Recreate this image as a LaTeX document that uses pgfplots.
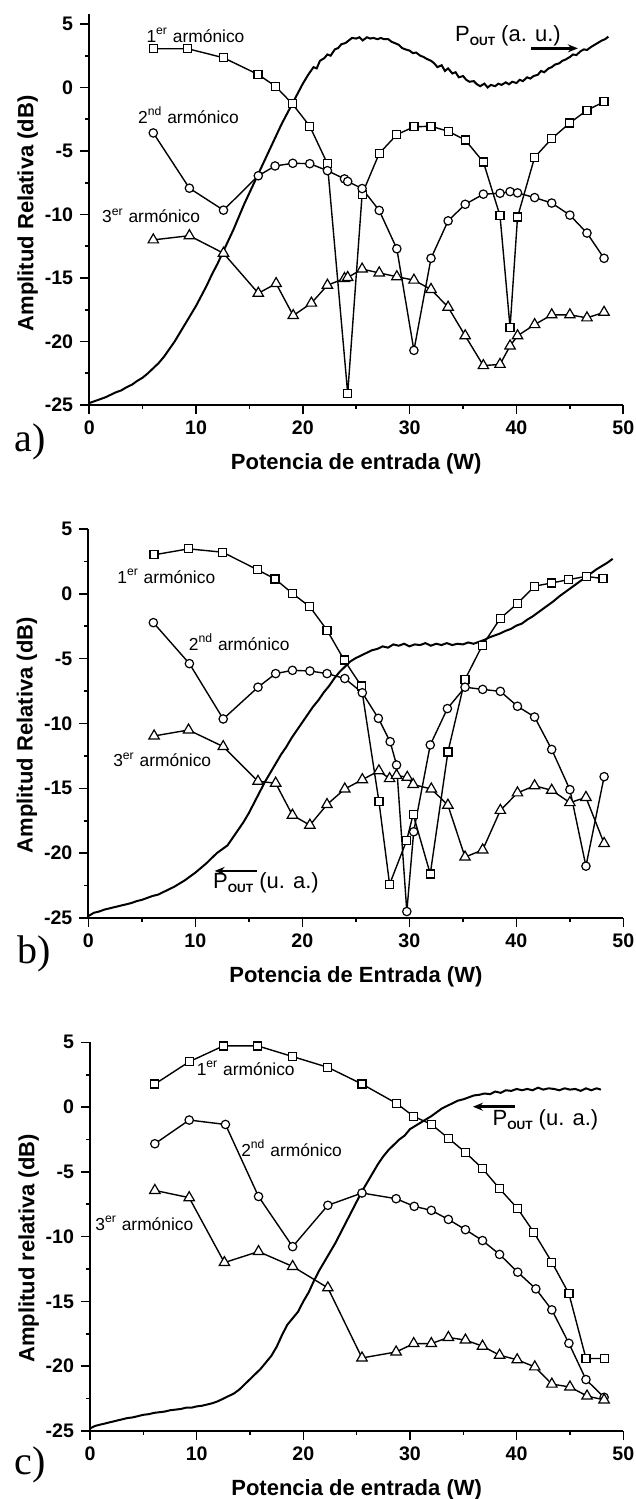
\documentclass[border=0pt]{standalone}
\usepackage{fontspec}
\setmainfont{Liberation Sans}
\newfontfamily\seriffont{Liberation Serif}
\usepackage{pgfplots}
\pgfplotsset{compat=1.18}
\usetikzlibrary{arrows.meta}

\pgfplotsset{
  panel/.style={
    scale only axis,
    axis lines=left,
    axis line style={-, line width=0.9pt},
    xmin=0, xmax=50, ymin=-25,
    xtick={0,10,...,50}, ytick={-25,-20,...,5},
    minor x tick num=1, minor y tick num=1,
    tick align=outside,
    major tick length=4.5pt, minor tick length=2pt,
    every tick/.style={line width=0.8pt, black},
    ticklabel style={font=\bfseries\fontsize{9.8}{9.8}\selectfont},
    /pgf/number format/assume math mode=true,
    xlabel style={font=\bfseries\fontsize{11}{11}\selectfont, at={(axis description cs:0.5,0)}, anchor=center, yshift=-29.5pt},
    ylabel style={font=\bfseries\fontsize{11}{11}\selectfont, anchor=center},
    clip=false,
  },
  sq/.style={black, line width=0.7pt, mark=square*, mark size=2pt, mark options={fill=white, solid, line width=0.6pt}},
  ci/.style={black, line width=0.7pt, mark=*, mark size=2.1pt, mark options={fill=white, solid, line width=0.6pt}},
  tr/.style={black, line width=0.7pt, mark=triangle*, mark size=3pt, mark options={fill=white, solid, line width=0.6pt}},
  pout/.style={black, line width=1pt, no marks},
}
\tikzset{
  ann/.style={font=\fontsize{8.7}{8.7}\selectfont},
  pl/.style={font=\fontsize{11}{11}\selectfont},
  arr/.style={line width=1.3pt, -{Stealth[length=5pt,width=4pt]}},
}
\newcommand{\POUT}{P\raisebox{-0.35ex}{\fontsize{6}{6}\selectfont\bfseries OUT}}

\begin{document}
\begin{tikzpicture}
\useasboundingbox (0,0) rectangle (318pt,-749.5pt);

% ---------------- panel a ----------------
\begin{axis}[panel, at={(44.6pt,-202.5pt)}, anchor=south west,
  width=267.05pt, height=195.6pt, ymax=5.8,
  xlabel={Potencia de entrada (W)},
  ylabel={Amplitud Relativa (dB)},
  ylabel style={at={(axis description cs:-0.115,0.49)}}]
\addplot[pout] coordinates {
(0,-24.85)(0.5,-24.7)(1,-24.55)(1.5,-24.4)(2,-24.2)(2.5,-24.0)(3,-23.85)(3.5,-23.6)(4,-23.4)(4.5,-23.1)
(5,-22.85)(5.5,-22.5)(6,-22.1)(6.5,-21.7)(7,-21.2)(7.5,-20.6)(8,-20.0)(8.5,-19.3)(9,-18.6)(9.5,-17.9)
(10,-17.2)(10.5,-16.4)(11,-15.6)(11.5,-14.7)(12,-13.9)(12.5,-13.0)(13,-12.1)(13.5,-11.2)(14,-10.2)(14.5,-9.2)
(15,-8.3)(15.5,-7.4)(16,-6.5)(16.5,-5.6)(17,-4.7)(17.5,-3.8)(18,-2.9)(18.5,-2.1)(19,-1.3)(19.5,-0.5)
(20,0.3)(20.5,1.0)(21,1.6)(21.3,1.5)(21.6,2.1)(22,2.3)(22.3,2.6)(22.6,2.5)(23,3.0)(23.3,3.1)(23.6,3.4)
(24,3.5)(24.3,3.7)(24.6,3.9)(25,3.85)(25.3,3.95)(25.6,3.7)(26,3.95)(26.3,3.85)(26.6,3.9)(27,3.8)(27.3,3.9)
(27.6,3.8)(28,3.8)(28.3,3.6)(28.6,3.5)(29,3.35)(29.3,3.1)(29.6,3.0)(30,2.9)(30.3,2.7)(30.6,2.75)(31,2.5)
(31.3,2.4)(31.6,2.25)(32,2.1)(32.3,1.9)(32.6,1.6)(33,1.75)(33.3,1.3)(33.6,1.5)(34,1.1)(34.3,1.2)(34.6,0.8)
(35,0.9)(35.3,0.6)(35.6,0.45)(36,0.5)(36.3,0.25)(36.6,0.1)(37,0.3)(37.3,0.0)(37.6,0.2)(38,0.1)(38.3,0.3)
(38.6,0.2)(39,0.4)(39.3,0.25)(39.6,0.45)(40,0.35)(40.3,0.6)(40.6,0.5)(41,0.8)(41.3,0.7)(41.6,0.9)(42,1.0)
(42.3,1.3)(42.6,1.2)(43,1.5)(43.3,1.6)(43.6,1.8)(44,1.9)(44.3,2.1)(44.6,2.2)(45,2.4)(45.3,2.6)(45.6,2.55)
(46,2.85)(46.3,3.0)(46.6,2.95)(47,3.2)(47.3,3.35)(47.6,3.5)(48,3.7)(48.3,3.8)(48.6,4.0)};
\addplot[sq] coordinates {
(6.0,3.05)(9.23,3.05)(12.57,2.34)(15.8,1.03)(17.43,0.1)(19.02,-1.29)(20.65,-3.05)(22.3,-6.0)
(24.2,-24.1)(25.55,-8.4)(27.15,-5.2)(28.8,-3.71)(30.4,-3.1)(32.0,-3.05)(33.6,-3.45)(35.2,-4.13)
(36.9,-5.87)(38.46,-10.1)(39.4,-18.9)(40.1,-10.2)(41.7,-5.5)(43.3,-4.03)(45.0,-2.79)(46.6,-1.79)(48.2,-1.13)};
\addplot[ci] coordinates {
(6.0,-3.58)(9.38,-7.93)(12.57,-9.66)(15.83,-6.95)(17.4,-6.18)(19.06,-5.97)(20.65,-6.0)(22.3,-6.55)
(23.9,-7.2)(24.2,-7.4)(25.55,-7.96)(27.15,-9.68)(28.8,-12.7)(30.4,-20.7)(32.0,-13.45)(33.6,-10.5)
(35.2,-9.2)(36.9,-8.4)(38.46,-8.33)(39.4,-8.2)(40.1,-8.3)(41.7,-8.67)(43.3,-9.1)(45.0,-10.05)(46.6,-11.46)(48.2,-13.45)};
\addplot[tr] coordinates {
(6.0,-12.0)(9.38,-11.67)(12.57,-13.05)(15.83,-16.2)(17.5,-15.44)(19.1,-17.96)(20.8,-16.98)(22.3,-15.57)
(23.9,-15.04)(24.2,-14.96)(25.55,-14.3)(27.15,-14.6)(28.8,-14.9)(30.4,-15.17)(32.0,-15.9)(33.6,-17.3)
(35.2,-19.55)(36.9,-21.9)(38.46,-21.8)(39.4,-20.35)(40.1,-19.55)(41.7,-18.67)(43.3,-17.9)(45.0,-17.9)(46.6,-18.14)(48.2,-17.7)};
\node[ann] at (axis cs:9.95,4.13) {1\textsuperscript{er} armónico};
\node[ann] at (axis cs:9.3,-2.18) {2\textsuperscript{nd} armónico};
\node[ann] at (axis cs:5.8,-10.1) {3\textsuperscript{er} armónico};
\node[pl] at (axis cs:39.2,4.1) {\POUT{} (a. u.)};
\draw[arr] (axis cs:41.4,3.08) -- (axis cs:45.75,3.08);
\end{axis}

% ---------------- panel b ----------------
\begin{axis}[panel, at={(44.2pt,-459pt)}, anchor=south west,
  width=267.5pt, height=194.5pt, ymax=5,
  xlabel={Potencia de Entrada (W)},
  ylabel={Amplitud Relativa (dB)},
  ylabel style={at={(axis description cs:-0.115,0.47)}}]
\addplot[pout] coordinates {
(0,-24.85)(0.5,-24.6)(1,-24.5)(1.5,-24.35)(2,-24.25)(2.5,-24.15)(3,-24.05)(3.5,-23.95)(4,-23.85)(4.5,-23.7)
(5,-23.6)(5.5,-23.45)(6,-23.3)(6.5,-23.2)(7,-23.0)(7.5,-22.8)(8,-22.6)(8.5,-22.35)(9,-22.1)(9.5,-21.8)
(10,-21.5)(10.5,-21.15)(11,-20.8)(11.5,-20.4)(12,-20.0)(12.5,-19.7)(13,-19.4)(13.5,-18.8)(14,-18.2)(14.5,-17.6)
(15,-16.9)(15.5,-16.1)(16,-15.3)(16.5,-14.5)(17,-13.8)(17.5,-13.1)(18,-12.4)(18.5,-11.8)(19,-11.1)(19.5,-10.5)
(20,-9.9)(20.5,-9.3)(21,-8.7)(21.5,-8.2)(22,-7.6)(22.5,-7.1)(23,-6.5)(23.5,-6.0)(24,-5.6)(24.5,-5.2)
(25,-4.95)(25.5,-4.75)(26,-4.55)(26.5,-4.35)(27,-4.25)(27.5,-4.05)(28,-4.15)(28.5,-3.9)(29,-4.0)(29.5,-3.85)
(30,-4.05)(30.5,-3.9)(31,-3.95)(31.5,-3.8)(32,-4.0)(32.5,-3.85)(33,-3.95)(33.5,-3.8)(34,-3.95)(34.5,-3.85)
(35,-3.9)(35.5,-3.75)(36,-3.85)(36.5,-3.7)(37,-3.55)(37.5,-3.35)(38,-3.2)(38.5,-3.05)(39,-2.85)(39.5,-2.7)
(40,-2.45)(40.5,-2.3)(41,-2.0)(41.5,-1.75)(42,-1.45)(42.5,-1.15)(43,-0.85)(43.5,-0.55)(44,-0.2)(44.5,0.1)
(45,0.4)(45.5,0.7)(46,1.0)(46.5,1.3)(47,1.6)(47.5,1.9)(48,2.15)(48.5,2.4)(49,2.7)};
\addplot[sq] coordinates {
(6.14,3.01)(9.36,3.47)(12.55,3.21)(15.8,1.86)(17.44,1.15)(19.07,0.03)(20.7,-1.0)(22.3,-2.8)(23.9,-5.1)
(25.5,-7.1)(27.15,-16.0)(28.15,-22.4)(29.75,-19.0)(30.35,-17.0)(31.95,-21.6)(33.6,-12.2)(35.2,-6.6)
(36.8,-4.0)(38.5,-1.89)(40.07,-0.77)(41.7,0.59)(43.3,0.84)(44.9,1.1)(46.55,1.35)(48.1,1.17)};
\addplot[ci] coordinates {
(6.07,-2.22)(9.44,-5.38)(12.6,-9.65)(15.85,-7.2)(17.5,-6.15)(19.07,-5.9)(20.7,-5.95)(22.3,-6.15)
(23.96,-6.53)(25.6,-7.63)(27.1,-9.6)(28.2,-11.4)(28.8,-13.2)(29.76,-24.5)(30.4,-18.35)(31.95,-11.65)
(33.55,-8.85)(35.2,-7.2)(36.85,-7.37)(38.5,-7.52)(40.1,-8.67)(41.7,-9.5)(43.3,-12.0)(45.0,-15.1)(46.5,-21.0)(48.2,-14.1)};
\addplot[tr] coordinates {
(6.14,-10.96)(9.36,-10.5)(12.6,-11.78)(15.85,-14.46)(17.5,-14.6)(19.07,-17.07)(20.7,-17.84)(22.3,-16.25)
(23.96,-15.05)(25.6,-14.33)(27.15,-13.65)(28.15,-14.25)(28.8,-14.0)(29.8,-14.15)(30.35,-14.7)(32.05,-15.05)
(33.6,-16.3)(35.2,-20.3)(36.85,-19.75)(38.5,-16.7)(40.1,-15.35)(41.7,-14.8)(43.3,-15.15)(45.0,-16.1)(46.5,-15.7)(48.2,-19.25)};
\node[ann] at (axis cs:7.28,1.35) {1\textsuperscript{er} armónico};
\node[ann] at (axis cs:14.1,-3.75) {2\textsuperscript{nd} armónico};
\node[ann] at (axis cs:6.9,-12.8) {3\textsuperscript{er} armónico};
\node[pl] at (axis cs:16.6,-22.3) {\POUT{} (u. a.)};
\draw[arr] (axis cs:15.8,-21.37) -- (axis cs:11.8,-21.37);
\end{axis}

% ---------------- panel c ----------------
\begin{axis}[panel, at={(45pt,-715.5pt)}, anchor=south west,
  width=266.65pt, height=194.35pt, ymax=5,
  xlabel={Potencia de entrada (W)},
  ylabel={Amplitud relativa (dB)},
  ylabel style={at={(axis description cs:-0.115,0.47)}}]
\addplot[pout] coordinates {
(0,-24.8)(0.5,-24.6)(1,-24.5)(1.5,-24.4)(2,-24.3)(2.5,-24.2)(3,-24.1)(3.5,-24.0)(4,-23.95)(4.5,-23.85)
(5,-23.75)(5.5,-23.7)(6,-23.6)(6.5,-23.55)(7,-23.5)(7.5,-23.4)(8,-23.35)(8.5,-23.3)(9,-23.2)(9.5,-23.2)
(10,-23.1)(10.5,-23.05)(11,-22.95)(11.5,-22.85)(12,-22.7)(12.5,-22.5)(13,-22.3)(13.5,-22.1)(14,-21.8)(14.5,-21.4)
(15,-21.0)(15.5,-20.6)(16,-20.2)(16.5,-19.7)(17,-19.2)(17.5,-18.5)(18,-17.6)(18.5,-16.8)(19,-16.3)(19.5,-15.8)
(20,-15.0)(20.5,-14.3)(21,-13.4)(21.5,-12.6)(22,-11.9)(22.5,-11.2)(23,-10.5)(23.5,-9.7)(24,-8.9)(24.5,-8.1)
(25,-7.3)(25.5,-6.5)(26,-5.8)(26.5,-5.1)(27,-4.4)(27.5,-3.8)(28,-3.3)(28.5,-2.9)(29,-2.5)(29.5,-2.2)
(30,-1.7)(30.5,-1.45)(31,-1.2)(31.5,-0.95)(32,-0.7)(32.5,-0.4)(33,-0.1)(33.5,0.1)(34,0.3)(34.5,0.5)
(35,0.6)(35.5,0.75)(36,0.9)(36.5,0.95)(37,1.05)(37.5,1.0)(38,1.2)(38.5,1.1)(39,1.3)(39.5,1.25)
(40,1.4)(40.5,1.3)(41,1.4)(41.5,1.3)(42,1.5)(42.5,1.35)(43,1.45)(43.5,1.4)(44,1.3)(44.5,1.45)
(45,1.35)(45.5,1.4)(46,1.25)(46.5,1.45)(47,1.3)(47.5,1.45)(47.9,1.35)};
\addplot[sq] coordinates {
(6.08,1.78)(9.3,3.5)(12.5,4.72)(15.74,4.72)(19.0,3.9)(22.3,3.07)(25.5,1.78)(28.75,0.28)(30.35,-0.72)
(32.0,-1.33)(33.6,-2.4)(35.2,-3.5)(36.8,-4.75)(38.4,-6.3)(40.1,-7.84)(41.6,-9.65)(43.3,-11.97)(44.9,-14.4)(46.5,-19.4)(48.2,-19.4)};
\addplot[ci] coordinates {
(6.08,-2.83)(9.3,-1.0)(12.7,-1.34)(15.8,-6.9)(19.0,-10.77)(22.3,-7.58)(25.5,-6.63)(28.7,-7.07)(30.4,-7.66)
(32.0,-7.97)(33.6,-8.67)(35.2,-9.46)(36.8,-10.3)(38.4,-11.37)(40.1,-12.74)(41.8,-14.03)(43.3,-15.65)(44.9,-18.23)(46.5,-21.03)(48.2,-22.4)};
\addplot[tr] coordinates {
(6.08,-6.43)(9.3,-6.99)(12.6,-12.0)(15.8,-11.15)(19.0,-12.3)(22.3,-13.95)(25.5,-19.36)(28.7,-18.9)(30.35,-18.25)
(32.0,-18.25)(33.6,-17.78)(35.2,-17.98)(36.8,-18.45)(38.4,-19.15)(40.05,-19.5)(41.7,-20.05)(43.3,-21.38)(45.0,-21.6)(46.6,-22.3)(48.2,-22.6)};
\node[ann] at (axis cs:14.6,3.0) {1\textsuperscript{er} armónico};
\node[ann] at (axis cs:18.9,-3.16) {2\textsuperscript{nd} armónico};
\node[ann] at (axis cs:5.1,-8.98) {3\textsuperscript{er} armónico};
\node[pl] at (axis cs:42.7,-1.0) {\POUT{} (u. a.)};
\draw[arr] (axis cs:39.8,0.03) -- (axis cs:35.9,0.03);
\end{axis}

\node[font=\seriffont\fontsize{20}{20}\selectfont] at (15pt,-221pt) {a)};
\node[font=\seriffont\fontsize{20}{20}\selectfont] at (17pt,-477pt) {b)};
\node[font=\seriffont\fontsize{20}{20}\selectfont] at (15pt,-732.5pt) {c)};
\end{tikzpicture}
\end{document}
